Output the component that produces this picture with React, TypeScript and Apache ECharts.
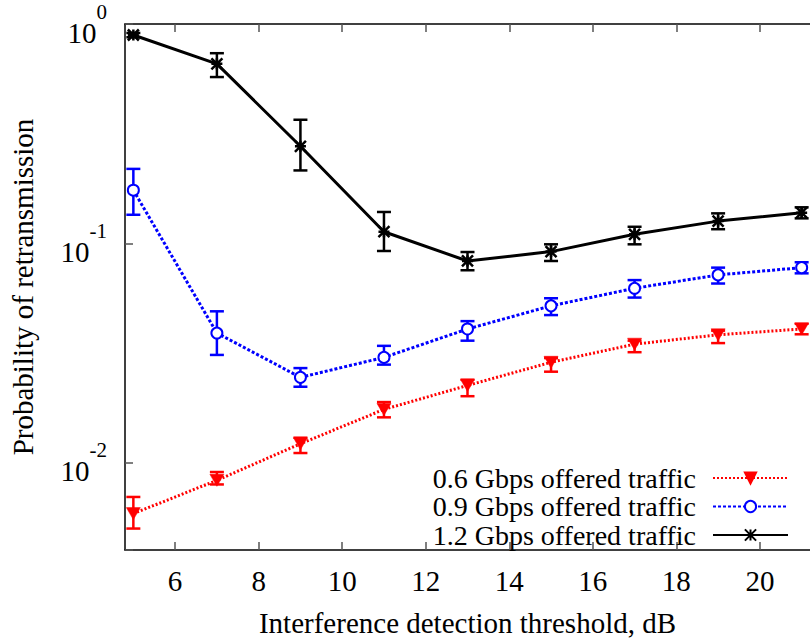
import React, { useEffect, useRef } from 'react';
import * as echarts from 'echarts';

const FONT = 'Liberation Serif, DejaVu Serif, serif';

const xValues = [5, 7, 9, 11, 13, 15, 17, 19, 21];
const xTicks = [6, 8, 10, 12, 14, 16, 18, 20];
const seriesNames = ['0.6 Gbps offered traffic', '0.9 Gbps offered traffic', '1.2 Gbps offered traffic'];

const p06 = [0.00586, 0.00831, 0.0122, 0.0175, 0.0225, 0.0287, 0.0347, 0.0383, 0.0407];
const p06Lo = [0.00501, 0.00796, 0.01107, 0.0161, 0.0201, 0.026, 0.0319, 0.0351, 0.0385];
const p06Hi = [0.00698, 0.00907, 0.013, 0.0189, 0.0239, 0.03, 0.036, 0.04, 0.043];

const p09 = [0.1747, 0.039, 0.0245, 0.0302, 0.0407, 0.0519, 0.0624, 0.0718, 0.0775];
const p09Lo = [0.135, 0.031, 0.0222, 0.028, 0.036, 0.0471, 0.0566, 0.0656, 0.073];
const p09Hi = [0.2185, 0.049, 0.027, 0.0341, 0.0442, 0.0562, 0.068, 0.0775, 0.082];

const p12 = [0.891, 0.658, 0.277, 0.113, 0.0831, 0.0917, 0.11, 0.1263, 0.138];
const p12Lo = [0.87, 0.573, 0.215, 0.0923, 0.0754, 0.0831, 0.099, 0.116, 0.13];
const p12Hi = [0.91, 0.736, 0.366, 0.139, 0.0913, 0.099, 0.119, 0.137, 0.146];

const colors = ['#ff0000', '#0000ff', '#000000'];

function errSeries(name: string, lo: number[], hi: number[], color: string) {
  return {
    type: 'custom',
    name,
    xAxisIndex: 0,
    yAxisIndex: 0,
    z: 1,
    data: xValues.map((x, i) => [x, lo[i], hi[i]]),
    encode: { x: 0, y: [1, 2] },
    renderItem: (params: any, api: any) => {
      const x = api.value(0);
      const a = api.coord([x, api.value(1)]);
      const b = api.coord([x, api.value(2)]);
      const cap = 7;
      const style = { stroke: color, lineWidth: 2.5 };
      return {
        type: 'group',
        children: [
          { type: 'line', shape: { x1: a[0], y1: a[1], x2: b[0], y2: b[1] }, style },
          { type: 'line', shape: { x1: a[0] - cap, y1: a[1], x2: a[0] + cap, y2: a[1] }, style },
          { type: 'line', shape: { x1: b[0] - cap, y1: b[1], x2: b[0] + cap, y2: b[1] }, style },
        ],
      };
    },
  };
}

export default function App() {
  const ref = useRef<HTMLDivElement>(null);
  useEffect(() => {
    document.body.style.margin = '0';
    const chart = echarts.init(ref.current!, null, { renderer: 'svg' });
    const option: any = {
      animation: false,
      backgroundColor: '#fff',
      textStyle: { fontFamily: FONT, color: '#000' },
      grid: { left: 125, top: 24, bottom: 91, right: -11, containLabel: false },
      legend: {
        data: seriesNames,
        orient: 'vertical',
        right: 16,
        top: 459,
        align: 'right',
        itemWidth: 75,
        itemHeight: 14,
        itemGap: 0.5,
        selectedMode: false,
        textStyle: { fontFamily: FONT, fontSize: 28, color: '#000', padding: [0, 12, 0, 0] },
      },
      xAxis: [
        {
          type: 'value',
          min: 4.8,
          max: 21.2,
          position: 'bottom',
          name: 'Interference detection threshold, dB',
          nameLocation: 'middle',
          nameGap: 58,
          nameTextStyle: { fontFamily: FONT, fontSize: 29, color: '#000' },
          axisLine: { show: true, onZero: false, lineStyle: { color: '#000', width: 1.5 } },
          axisTick: { show: true, inside: true, length: 8, customValues: xTicks, lineStyle: { color: '#555', width: 1.5 } },
          axisLabel: { show: true, customValues: xTicks, margin: 16, fontFamily: FONT, fontSize: 29, color: '#000' },
          splitLine: { show: false },
        },
        {
          type: 'value',
          min: 4.8,
          max: 21.2,
          position: 'top',
          axisLine: { show: true, onZero: false, lineStyle: { color: '#000', width: 1.5 } },
          axisTick: { show: true, inside: true, length: 8, customValues: xTicks, lineStyle: { color: '#555', width: 1.5 } },
          axisLabel: { show: false },
          splitLine: { show: false },
        },
      ],
      yAxis: {
        type: 'log',
        logBase: 10,
        min: 0.004,
        max: 1,
        name: 'Probability of retransmission',
        nameLocation: 'middle',
        nameGap: 88,
        nameTextStyle: { fontFamily: FONT, fontSize: 29, color: '#000' },
        axisLine: { show: true, lineStyle: { color: '#000', width: 1.5 } },
        axisTick: { show: true, inside: true, length: 8, lineStyle: { color: '#555', width: 1.5 } },
        splitLine: { show: false },
        minorTick: { show: false },
        axisLabel: {
          margin: 18,
          fontFamily: FONT,
          formatter: (v: number) => {
            const l = Math.log10(v);
            const e = Math.round(l);
            if (Math.abs(l - e) > 1e-6) return '';
            return `{b|10}{s|${e}}`;
          },
          rich: {
            b: { fontFamily: FONT, fontSize: 29, lineHeight: 46, verticalAlign: 'bottom', color: '#000' },
            s: { fontFamily: FONT, fontSize: 21, lineHeight: 20, verticalAlign: 'top', color: '#000' },
          },
        },
      },
      series: [
        errSeries('err06', p06Lo, p06Hi, colors[0]),
        errSeries('err09', p09Lo, p09Hi, colors[1]),
        errSeries('err12', p12Lo, p12Hi, colors[2]),
        {
          type: 'line',
          name: seriesNames[0],
          data: xValues.map((x, i) => [x, p06[i]]),
          symbol: 'triangle',
          symbolRotate: 180,
          symbolSize: [14, 12],
          z: 3,
          lineStyle: { color: colors[0], width: 3, type: [2, 2] },
          itemStyle: { color: colors[0], borderColor: colors[0], borderWidth: 0.5 },
        },
        {
          type: 'line',
          name: seriesNames[1],
          data: xValues.map((x, i) => [x, p09[i]]),
          symbol: 'emptyCircle',
          symbolSize: 11,
          z: 3,
          lineStyle: { color: colors[1], width: 3, type: [3, 2] },
          itemStyle: { color: colors[1], borderColor: colors[1], borderWidth: 2.5 },
        },
        {
          type: 'line',
          name: seriesNames[2],
          data: xValues.map((x, i) => [x, p12[i]]),
          symbol: 'path://M0 0L10 10M10 0L0 10M5 0L5 10M0 5L10 5',
          symbolSize: 11,
          z: 3,
          lineStyle: { color: colors[2], width: 3, type: 'solid' },
          itemStyle: { color: colors[2], borderColor: colors[2], borderWidth: 2.5 },
        },
      ],
    };
    chart.setOption(option);
    return () => chart.dispose();
  }, []);
  return <div ref={ref} style={{ width: 810, height: 642 }} />;
}
